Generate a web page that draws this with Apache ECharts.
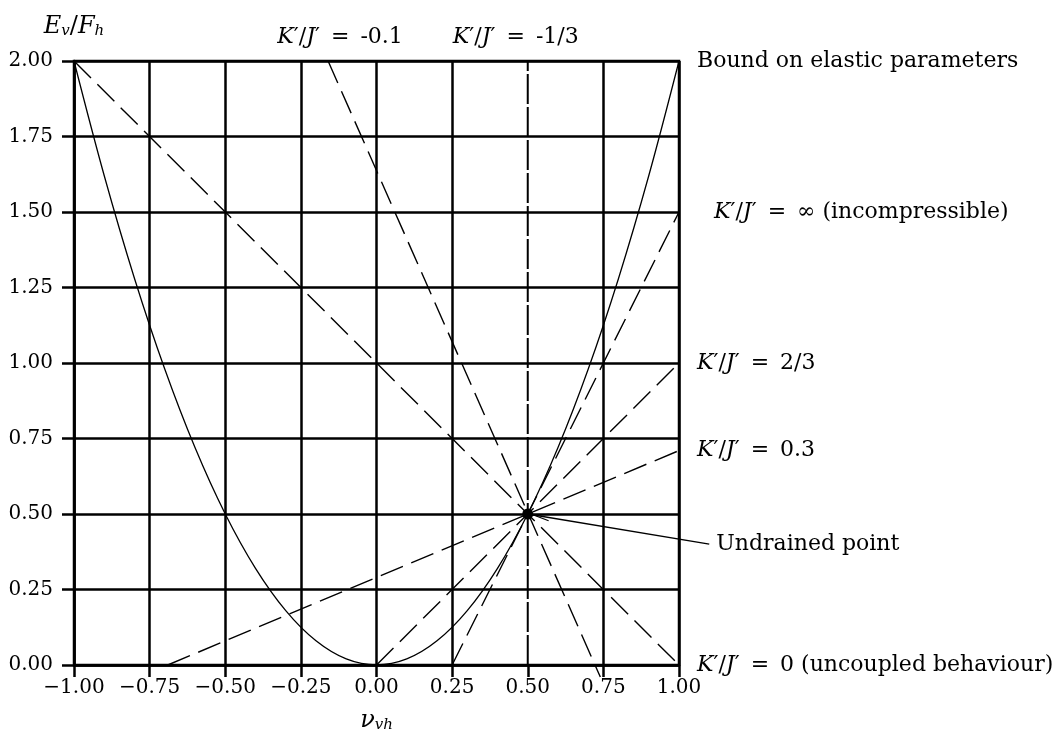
<!DOCTYPE html>
<html>
<head>
<meta charset="utf-8">
<script src="https://cdn.jsdelivr.net/npm/echarts@6/dist/echarts.min.js"></script>
<style>
  html, body { margin: 0; padding: 0; background: #fff; }
  #chart { width: 1060px; height: 751px; }
</style>
</head>
<body>
<div id="chart"></div>
<script>
// Axis ticks
const xTicks = [-1.0, -0.75, -0.5, -0.25, 0.0, 0.25, 0.5, 0.75, 1.0];
const xTickLabels = ['\u22121.00', '\u22120.75', '\u22120.50', '\u22120.25', '0.00', '0.25', '0.50', '0.75', '1.00'];
const yTicks = [0.0, 0.25, 0.5, 0.75, 1.0, 1.25, 1.5, 1.75, 2.0];
const yTickLabels = ['0.00', '0.25', '0.50', '0.75', '1.00', '1.25', '1.50', '1.75', '2.00'];

// Bound on elastic parameters (solid curve)
const boundX = [-1.0, -0.9, -0.8, -0.7, -0.6, -0.5, -0.4, -0.3, -0.2, -0.1, 0.0,
                0.1, 0.2, 0.3, 0.4, 0.5, 0.6, 0.7, 0.8, 0.9, 1.0];
const boundY = [2.00, 1.62, 1.28, 0.98, 0.72, 0.50, 0.32, 0.18, 0.08, 0.02, 0.00,
                0.02, 0.08, 0.18, 0.32, 0.50, 0.72, 0.98, 1.28, 1.62, 2.00];

// Dashed lines through the undrained point, one per K'/J' value
const kZeroX = [-1.0, 1.0],      kZeroY = [2.0, 0.0];       // K'/J' = 0
const kPoint3X = [-0.69, 1.0],   kPoint3Y = [0.0, 0.71];    // K'/J' = 0.3
const kTwoThirdsX = [0.0, 1.0],  kTwoThirdsY = [0.0, 1.0];  // K'/J' = 2/3
const kInfX = [0.25, 1.0],       kInfY = [0.0, 1.5];        // K'/J' = infinity
const kMinus01X = [-0.16, 0.74], kMinus01Y = [2.0, -0.04];  // K'/J' = -0.1
const kMinusThirdX = [0.5, 0.5], kMinusThirdY = [0.0, 2.0]; // K'/J' = -1/3

// Undrained point and its pointer
const undrainedX = [0.5], undrainedY = [0.5];
const pointerX = [0.5, 1.10], pointerY = [0.5, 0.40];

const FONT = 'DejaVu Serif';
const LBL = 22;
const rich = {
  i: { fontFamily: FONT, fontStyle: 'italic', fontSize: LBL, color: '#000' },
  r: { fontFamily: FONT, fontSize: LBL, color: '#000' },
  s: { fontFamily: FONT, fontStyle: 'italic', fontSize: 15, color: '#000', padding: [10, 0, 0, 0] },
  ni: { fontFamily: FONT, fontStyle: 'italic', fontSize: 24, color: '#000' },
  nr: { fontFamily: FONT, fontSize: 24, color: '#000' }
};
// "K'/J' =" with wider spacing around the equals sign
const kj = '{i|K}{r|\u2032/}{i|J}{r|\u2032\u2002=\u2002';

function pairs(xs, ys) { return xs.map((x, i) => [x, ys[i]]); }

function endText(text, distance) {
  return {
    show: true, formatter: text, distance: distance,
    fontFamily: FONT, fontSize: LBL, color: '#000', rich: rich
  };
}

function dashed(name, xs, ys, label, extra) {
  return Object.assign({
    name: name,
    type: 'line',
    data: pairs(xs, ys),
    symbol: 'none',
    silent: true,
    z: 3,
    lineStyle: { color: '#000', width: 1.4, type: [24, 9] },
    endLabel: label ? endText(label, 18) : { show: false }
  }, extra || {});
}

// x = 0.5 gridline is replaced by the K'/J' = -1/3 dashed line
const xSplitColors = xTicks.map(v => (v === 0.5 ? 'rgba(0,0,0,0)' : '#000'));

// pointer from the caption to the undrained point, with a small open arrowhead
function renderPointer(params, api) {
  const p0 = api.coord([api.value(0), api.value(1)]);
  const p1 = api.coord([api.value(2), api.value(3)]);
  const dx = p1[0] - p0[0], dy = p1[1] - p0[1];
  const len = Math.hypot(dx, dy);
  const ux = dx / len, uy = dy / len;
  const tip = [p0[0] + ux * 6, p0[1] + uy * 6];
  const arm = 16, ang = 0.2;
  const c = Math.cos(ang), s = Math.sin(ang);
  const a1 = [tip[0] + arm * (ux * c - uy * s), tip[1] + arm * (uy * c + ux * s)];
  const a2 = [tip[0] + arm * (ux * c + uy * s), tip[1] + arm * (uy * c - ux * s)];
  return {
    type: 'group',
    children: [
      { type: 'line', shape: { x1: p0[0], y1: p0[1], x2: p1[0], y2: p1[1] },
        style: { stroke: '#000', lineWidth: 1.3 } },
      { type: 'polyline', shape: { points: [a1, tip, a2] },
        style: { stroke: '#000', lineWidth: 1.2, fill: null } }
    ]
  };
}

const chart = echarts.init(document.getElementById('chart'), null, { renderer: 'canvas' });
chart.setOption({
  animation: false,
  backgroundColor: '#fff',
  grid: {
    left: 74, right: 381, top: 61, bottom: 86,
    show: true, borderColor: '#000', borderWidth: 2.5, backgroundColor: 'transparent'
  },
  xAxis: {
    type: 'value', min: -1, max: 1, interval: 0.25,
    name: '{ni|\u03bd}{s|vh}',
    nameLocation: 'middle', nameGap: 43,
    nameTextStyle: { rich: rich },
    axisLine: { show: true, onZero: false, lineStyle: { color: '#000', width: 2.5 } },
    axisTick: { show: true, length: 12, lineStyle: { color: '#000', width: 2.5 } },
    axisLabel: {
      margin: 13, fontFamily: FONT, fontSize: 20, color: '#000',
      formatter: v => xTickLabels[xTicks.findIndex(t => Math.abs(t - v) < 1e-9)]
    },
    splitLine: { show: true, lineStyle: { color: xSplitColors, width: 2.5 } }
  },
  yAxis: {
    type: 'value', min: 0, max: 2, interval: 0.25,
    name: '{ni|E}{s|v}{nr|/}{ni|F}{s|h}',
    nameLocation: 'end', nameGap: 22,
    nameTextStyle: { rich: rich, align: 'center' },
    axisLine: { show: true, onZero: false, lineStyle: { color: '#000', width: 2.5 } },
    axisTick: { show: true, length: 12, lineStyle: { color: '#000', width: 2.5 } },
    axisLabel: {
      margin: 21, fontFamily: FONT, fontSize: 20, color: '#000',
      formatter: v => yTickLabels[yTicks.findIndex(t => Math.abs(t - v) < 1e-9)]
    },
    splitLine: { show: true, lineStyle: { color: '#000', width: 2.5 } }
  },
  series: [
    {
      name: 'bound',
      type: 'line',
      data: pairs(boundX, boundY),
      smooth: 0.35,
      symbol: 'none',
      silent: true,
      z: 4,
      lineStyle: { color: '#000', width: 1.3 },
      endLabel: endText('Bound on elastic parameters', 18)
    },
    dashed('k0', kZeroX, kZeroY, kj + '0 (uncoupled behaviour)}'),
    dashed('k03', kPoint3X, kPoint3Y, kj + '0.3}'),
    dashed('k23', kTwoThirdsX, kTwoThirdsY, kj + '2/3}'),
    dashed('kinf', kInfX, kInfY, kj + '\u221e (incompressible)}'),
    dashed('km01', kMinus01X, kMinus01Y, null, { clip: false }),
    dashed('km13', kMinusThirdX, kMinusThirdY, null, {
      lineStyle: { color: '#000', width: 2, type: [30, 3] }
    }),
    {
      name: 'pointer',
      type: 'custom',
      clip: false,
      silent: true,
      z: 5,
      data: [[pointerX[0], pointerY[0], pointerX[1], pointerY[1]]],
      encode: { x: [0, 2], y: [1, 3] },
      renderItem: renderPointer
    },
    {
      name: 'undrained',
      type: 'scatter',
      data: pairs(undrainedX, undrainedY),
      symbol: 'circle',
      symbolSize: 11,
      silent: true,
      z: 6,
      itemStyle: { color: '#000', opacity: 1 }
    },
    {
      // text at line ends: -0.1 / -1/3 above the plot, pointer caption at right
      name: 'annotations',
      type: 'scatter',
      clip: false,
      symbolSize: 0,
      silent: true,
      itemStyle: { opacity: 1 },
      data: [
        { value: [kMinus01X[0], kMinus01Y[0]],
          label: { formatter: kj + '-0.1}', position: 'top', distance: 13, offset: [12, 0] } },
        { value: [kMinusThirdX[1], kMinusThirdY[1]],
          label: { formatter: kj + '-1/3}', position: 'top', distance: 13, offset: [-12, 0] } },
        { value: [pointerX[1], pointerY[1]],
          label: { formatter: 'Undrained point', position: 'right', distance: 7 } }
      ],
      label: {
        show: true, fontFamily: FONT, fontSize: LBL, color: '#000', rich: rich
      }
    }
  ]
});
chart.setOption({
  series: [{ name: 'kinf', endLabel: { distance: 35 } }]
});
</script>
</body>
</html>
